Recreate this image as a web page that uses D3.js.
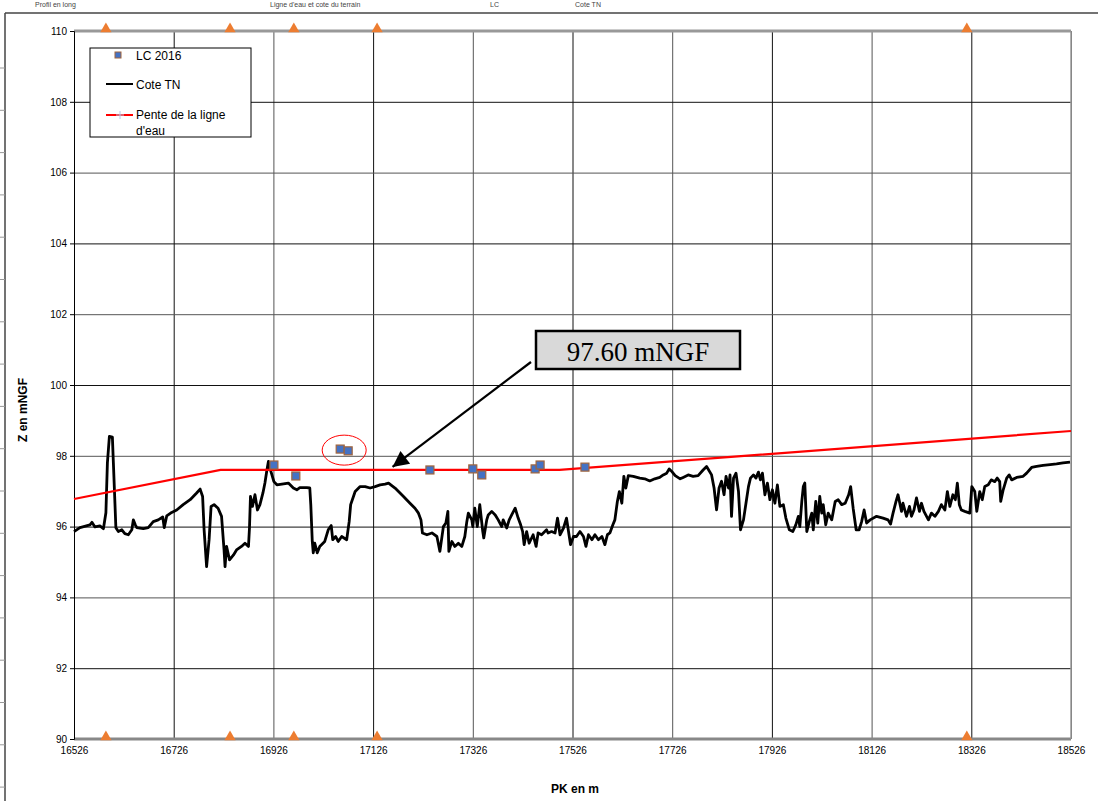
<!DOCTYPE html>
<html>
<head>
<meta charset="utf-8">
<script src="https://cdn.jsdelivr.net/npm/d3@7"></script>
<style>
  body { margin: 0; background: #fff; }
  svg { display: block; font-family: "Liberation Sans", Arial, sans-serif; }
</style>
</head>
<body>
<svg id="chart" width="1098" height="801"></svg>
<script>
// axes
const xTicks = [16526, 16726, 16926, 17126, 17326, 17526, 17726, 17926, 18126, 18326, 18526]
const yTicks = [90, 92, 94, 96, 98, 100, 102, 104, 106, 108, 110]

// LC 2016 (laisses de crue)
const lcPK = [16927, 16971, 17060, 17076, 17240, 17326, 17344, 17451, 17461, 17551]
const lcZ  = [97.74, 97.43, 98.19, 98.14, 97.60, 97.63, 97.46, 97.63, 97.74, 97.68]

// pente de la ligne d'eau
const penteLE = [[16526, 96.78], [16820, 97.60], [17500, 97.60], [18526, 98.70]]

// ouvrages (triangles haut / bas)
const ouvragesPK = [16590, 16839, 16967, 17134, 18317]

// cote TN [PK, Z]
const coteTN = [
  [16526,95.86],[16538,95.97],[16558,96.05],[16562,96.12],[16568,95.99],[16578,96.02],[16585,95.94],
  [16590,96.39],[16593,97.80],[16597,98.55],[16603,98.53],[16605,97.80],[16610,95.97],[16615,95.86],
  [16622,95.91],[16628,95.80],[16635,95.77],[16642,95.91],[16645,96.19],[16649,96.05],[16652,95.97],
  [16665,95.94],[16675,95.97],[16685,96.14],[16695,96.19],[16704,96.27],[16707,95.97],[16712,96.30],
  [16722,96.40],[16732,96.47],[16745,96.62],[16759,96.76],[16772,96.95],[16779,97.06],[16784,96.85],
  [16787,95.91],[16792,94.87],[16797,95.63],[16801,96.57],[16807,96.62],[16815,96.52],[16822,96.29],
  [16827,95.34],[16829,94.87],[16832,95.44],[16838,95.06],[16846,95.20],[16852,95.34],[16862,95.44],
  [16869,95.53],[16876,95.44],[16878,95.96],[16880,96.85],[16884,96.57],[16889,96.90],[16894,96.47],
  [16899,96.62],[16905,96.95],[16909,97.23],[16913,97.60],[16916,97.84],[16921,97.56],[16927,97.27],
  [16933,97.18],[16943,97.20],[16956,97.23],[16966,97.09],[16973,97.04],[16979,97.10],[16993,97.10],
  [16999,97.09],[17001,96.62],[17004,95.58],[17006,95.26],[17009,95.53],[17014,95.26],[17019,95.44],
  [17029,95.58],[17036,95.91],[17042,96.03],[17045,95.63],[17051,95.72],[17056,95.58],[17063,95.72],
  [17073,95.63],[17078,96.14],[17081,96.62],[17090,96.99],[17100,97.13],[17110,97.13],[17120,97.09],
  [17130,97.13],[17140,97.18],[17150,97.20],[17157,97.23],[17170,97.09],[17187,96.85],[17200,96.66],
  [17210,96.52],[17217,96.38],[17222,96.19],[17225,95.82],[17234,95.77],[17244,95.82],[17254,95.72],
  [17260,95.30],[17267,96.00],[17272,96.10],[17276,96.43],[17278,95.30],[17284,95.58],[17290,95.44],
  [17297,95.53],[17304,95.44],[17310,95.72],[17314,96.14],[17317,96.38],[17324,96.19],[17326,96.00],
  [17330,96.52],[17335,96.00],[17340,96.62],[17346,95.86],[17348,95.68],[17354,96.19],[17357,96.33],
  [17364,96.43],[17371,96.33],[17377,96.19],[17384,96.00],[17387,96.19],[17394,95.96],[17399,96.19],
  [17404,96.33],[17411,96.52],[17417,96.24],[17422,96.05],[17426,95.86],[17429,95.49],[17434,95.86],
  [17439,95.53],[17447,95.77],[17453,95.44],[17457,95.82],[17464,95.77],[17474,95.91],[17477,95.82],
  [17484,95.86],[17491,95.82],[17496,96.24],[17501,95.77],[17508,95.96],[17514,96.24],[17519,95.77],
  [17522,95.49],[17528,95.72],[17534,95.72],[17541,95.86],[17548,95.72],[17553,95.44],[17558,95.77],
  [17565,95.63],[17571,95.77],[17578,95.63],[17585,95.72],[17591,95.49],[17596,95.77],[17601,95.82],
  [17607,96.05],[17611,96.19],[17616,96.71],[17620,96.99],[17625,96.66],[17629,97.42],[17633,97.09],
  [17638,97.44],[17648,97.42],[17661,97.37],[17671,97.35],[17681,97.29],[17691,97.35],[17701,97.39],
  [17708,97.46],[17715,97.51],[17720,97.63],[17725,97.56],[17732,97.44],[17742,97.35],[17748,97.39],
  [17758,97.46],[17768,97.42],[17778,97.44],[17788,97.60],[17795,97.70],[17805,97.46],[17810,97.09],
  [17815,96.47],[17820,97.09],[17825,97.28],[17830,96.90],[17834,97.42],[17839,97.09],[17842,97.46],
  [17845,96.29],[17849,97.37],[17854,97.51],[17859,96.99],[17863,95.91],[17869,96.19],[17874,96.66],
  [17879,97.13],[17883,97.37],[17889,97.46],[17894,97.37],[17899,97.54],[17903,97.32],[17907,97.51],
  [17912,96.90],[17917,97.23],[17922,96.76],[17927,97.04],[17932,96.66],[17937,97.18],[17942,96.57],
  [17949,96.62],[17954,96.24],[17961,95.91],[17968,95.86],[17974,96.05],[17979,96.29],[17982,96.00],
  [17986,96.71],[17989,97.13],[17992,97.23],[17996,95.86],[18001,96.14],[18006,96.38],[18009,95.91],
  [18014,96.71],[18018,96.10],[18022,96.85],[18026,96.38],[18029,96.62],[18034,96.05],[18039,96.38],
  [18046,96.19],[18053,96.71],[18059,96.76],[18066,96.62],[18073,96.66],[18080,96.90],[18084,97.13],
  [18089,96.52],[18095,95.91],[18101,95.91],[18106,96.14],[18111,96.47],[18116,96.10],[18123,96.19],
  [18136,96.29],[18149,96.24],[18159,96.19],[18164,96.07],[18169,96.38],[18175,96.71],[18179,96.90],
  [18186,96.43],[18189,96.66],[18196,96.29],[18202,96.57],[18206,96.29],[18211,96.47],[18216,96.81],
  [18222,96.43],[18226,96.66],[18231,96.43],[18240,96.19],[18246,96.38],[18253,96.29],[18260,96.43],
  [18266,96.62],[18273,96.47],[18278,96.99],[18283,96.57],[18289,96.90],[18294,96.76],[18298,97.23],
  [18302,96.62],[18306,96.47],[18313,96.43],[18323,96.38],[18327,97.13],[18333,96.99],[18337,96.43],
  [18343,96.99],[18348,96.76],[18353,97.13],[18360,97.18],[18366,97.32],[18373,97.27],[18378,97.37],
  [18383,97.27],[18385,96.71],[18390,97.04],[18397,97.37],[18402,97.46],[18407,97.32],[18417,97.39],
  [18430,97.42],[18437,97.51],[18447,97.67],[18457,97.70],[18470,97.73],[18484,97.75],[18497,97.77],
  [18510,97.80],[18524,97.82]
]

const annotation = "97.60 mNGF"
const headerTexts = [[35, "Profil en long"], [270, "Ligne d'eau et cote du terrain"], [490, "LC"], [575, "Cote TN"]]

const margin = {top: 31, right: 27, bottom: 62, left: 74}
const width = 1098, height = 801

const x = d3.scaleLinear().domain([16526, 18526]).range([margin.left, width - margin.right])
const y = d3.scaleLinear().domain([90, 110]).range([height - margin.bottom, margin.top])

const svg = d3.select("#chart")

// page frame (cropped sheet)
svg.append("line").attr("x1", 5).attr("x2", width).attr("y1", 13).attr("y2", 13)
    .attr("stroke", "#444").attr("stroke-width", 1.5)
svg.append("line").attr("x1", 5).attr("x2", 5).attr("y1", 13).attr("y2", height)
    .attr("stroke", "#444").attr("stroke-width", 1.5)
svg.append("g").selectAll("line")
    .data(d3.range(68, height, 42.3))
    .join("line")
    .attr("x1", 0).attr("x2", 5).attr("y1", d => d).attr("y2", d => d)
    .attr("stroke", "#999")

// small header texts of the sheet
svg.append("g").attr("fill", "#444").attr("font-size", 7)
    .selectAll("text")
    .data(headerTexts)
    .join("text")
    .attr("x", d => d[0]).attr("y", 7)
    .text(d => d[1])

// grid
const grid = svg.append("g")
grid.append("g")
    .attr("transform", `translate(0,${y(90)})`)
    .call(d3.axisBottom(x).tickValues(xTicks).tickSize(-(y(90) - y(110))).tickFormat(""))
    .call(g => g.select(".domain").remove())
    .call(g => g.selectAll(".tick line").attr("stroke", (d, i) => i % 2 ? "#111" : "#555"))
grid.append("g")
    .attr("transform", `translate(${x(16526)},0)`)
    .call(d3.axisLeft(y).tickValues(yTicks).tickSize(-(x(18526) - x(16526))).tickFormat(""))
    .call(g => g.select(".domain").remove())
    .call(g => g.selectAll(".tick line").attr("stroke", (d, i) => i % 2 ? "#111" : "#555"))

// borders
svg.append("line").attr("x1", x(16526)).attr("x2", x(18526)).attr("y1", y(110)).attr("y2", y(110))
    .attr("stroke", "#999").attr("stroke-width", 3)
svg.append("line").attr("x1", x(16526)).attr("x2", x(18526)).attr("y1", y(90)).attr("y2", y(90))
    .attr("stroke", "#888").attr("stroke-width", 3)
svg.append("line").attr("x1", x(18526)).attr("x2", x(18526)).attr("y1", y(110)).attr("y2", y(90))
    .attr("stroke", "#999").attr("stroke-width", 1.5)

// y axis
svg.append("g")
    .attr("transform", `translate(${x(16526)},0)`)
    .call(d3.axisLeft(y).tickValues(yTicks).tickSize(4).tickPadding(3).tickFormat(d3.format("d")))
    .call(g => g.select(".domain").attr("stroke", "#000"))
    .call(g => g.selectAll(".tick text").attr("font-size", 10).attr("font-family", "Liberation Sans, Arial"))

// x axis labels
svg.append("g")
    .attr("transform", `translate(0,${y(90)})`)
    .call(d3.axisBottom(x).tickValues(xTicks).tickSize(0).tickPadding(8).tickFormat(d3.format("d")))
    .call(g => g.select(".domain").remove())
    .call(g => g.selectAll(".tick text").attr("font-size", 10).attr("font-family", "Liberation Sans, Arial"))

// axis titles
svg.append("text")
    .attr("transform", "translate(27,410) rotate(-90)")
    .attr("text-anchor", "middle").attr("font-weight", "bold").attr("font-size", 12)
    .text("Z en mNGF")
svg.append("text")
    .attr("x", 575).attr("y", 793)
    .attr("text-anchor", "middle").attr("font-weight", "bold").attr("font-size", 12)
    .text("PK en m")

// ouvrages triangles
const tri = d3.symbol().type(d3.symbolTriangle).size(55)
svg.append("g").attr("fill", "#ED7D31")
    .selectAll("path")
    .data(ouvragesPK.flatMap(pk => [[pk, 110], [pk, 90]]))
    .join("path")
    .attr("transform", d => `translate(${x(d[0])},${y(d[1]) - 2})`)
    .attr("d", tri)

// cote TN
svg.append("path")
    .datum(coteTN)
    .attr("fill", "none").attr("stroke", "#000").attr("stroke-width", 2.8)
    .attr("stroke-linejoin", "round")
    .attr("d", d3.line().x(d => x(d[0])).y(d => y(d[1])))

// pente ligne d'eau
svg.append("path")
    .datum(penteLE)
    .attr("fill", "none").attr("stroke", "#FF0000").attr("stroke-width", 2.2)
    .attr("d", d3.line().x(d => x(d[0])).y(d => y(d[1])))

// LC 2016
svg.append("g")
    .selectAll("rect")
    .data(lcPK.map((pk, i) => [pk, lcZ[i]]))
    .join("rect")
    .attr("x", d => x(d[0]) - 4).attr("y", d => y(d[1]) - 4)
    .attr("width", 8).attr("height", 8)
    .attr("fill", "#4472C4").attr("stroke", "#A0643C").attr("stroke-width", 1.2)

// ellipse around the two high points
svg.append("ellipse")
    .attr("cx", (x(lcPK[2]) + x(lcPK[3])) / 2).attr("cy", y(98.16))
    .attr("rx", 22).attr("ry", 15)
    .attr("fill", "none").attr("stroke", "#FF0000").attr("stroke-width", 1)

// annotation arrow
svg.append("defs").append("marker")
    .attr("id", "arrow").attr("viewBox", "0 0 10 10")
    .attr("refX", 10).attr("refY", 5)
    .attr("markerWidth", 20).attr("markerHeight", 16)
    .attr("markerUnits", "userSpaceOnUse")
    .attr("orient", "auto")
    .append("path").attr("d", "M0,0 L10,5 L0,10 z").attr("fill", "#000")

svg.append("line")
    .attr("x1", 531).attr("y1", 362)
    .attr("x2", x(17165)).attr("y2", y(97.60) - 3)
    .attr("stroke", "#000").attr("stroke-width", 2.2)
    .attr("marker-end", "url(#arrow)")

svg.append("rect")
    .attr("x", 536).attr("y", 331).attr("width", 204).attr("height", 38)
    .attr("fill", "#D9D9D9").attr("stroke", "#000").attr("stroke-width", 2.5)
svg.append("text")
    .attr("x", 638).attr("y", 361)
    .attr("text-anchor", "middle")
    .attr("font-family", "Liberation Serif, Times New Roman, serif").attr("font-size", 27)
    .text(annotation)

// legend
const legend = svg.append("g").attr("font-size", 12)
legend.append("rect").attr("x", 90).attr("y", 48).attr("width", 161).attr("height", 89)
    .attr("fill", "#fff").attr("stroke", "#000")
legend.append("rect").attr("x", 115).attr("y", 52).attr("width", 6).attr("height", 6)
    .attr("fill", "#4472C4").attr("stroke", "#A0643C")
legend.append("text").attr("x", 136).attr("y", 60).text("LC 2016")
legend.append("line").attr("x1", 106).attr("x2", 133).attr("y1", 84).attr("y2", 84)
    .attr("stroke", "#000").attr("stroke-width", 2)
legend.append("text").attr("x", 136).attr("y", 89).text("Cote TN")
legend.append("line").attr("x1", 106).attr("x2", 133).attr("y1", 115).attr("y2", 115)
    .attr("stroke", "#FF0000").attr("stroke-width", 2)
legend.append("path").attr("d", "M116,115 h8 M120,111 v8").attr("stroke", "#B8C8E8").attr("stroke-width", 1)
legend.append("text").attr("x", 136).attr("y", 119).text("Pente de la ligne")
legend.append("text").attr("x", 136).attr("y", 135).text("d'eau")
</script>
</body>
</html>
